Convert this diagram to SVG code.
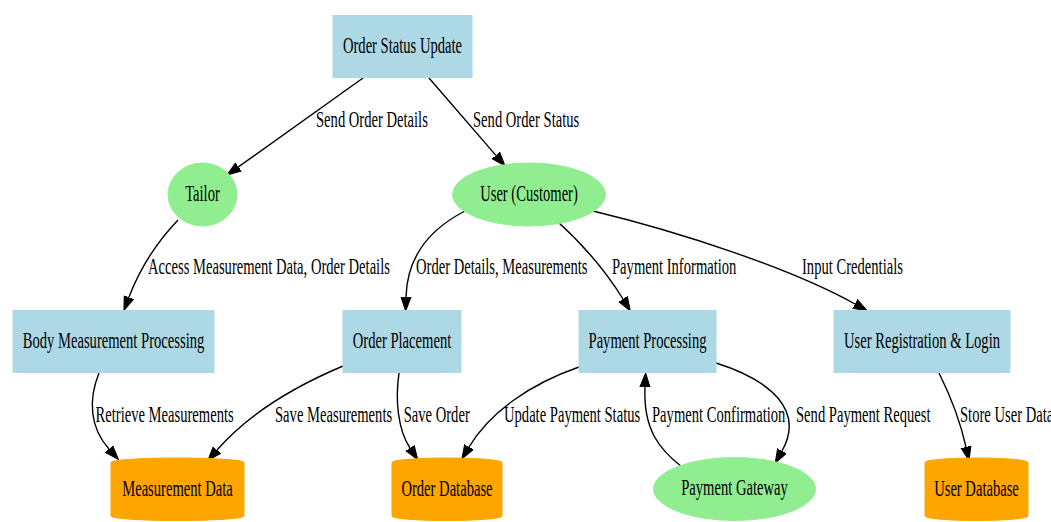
<svg xmlns="http://www.w3.org/2000/svg" width="1051" height="522" viewBox="0 0 1051 522">
  <style>
    .proc { fill: #ADD8E6; stroke: #ADD8E6; stroke-width: 1; }
    .ent { fill: #90EE90; stroke: #90EE90; stroke-width: 1; }
    .store { fill: #FFA500; stroke: #FFA500; stroke-width: 1; }
    .edge { fill: none; stroke: #000; stroke-width: 1.4; }
    text { font-family: "Liberation Serif", "Times New Roman", serif; font-size: 23px; fill: #000; }
    .n { text-anchor: middle; }
    .l { text-anchor: start; }
  </style>
  <defs>
    <marker id="arrow" markerUnits="userSpaceOnUse" markerWidth="16" markerHeight="12" viewBox="0 -6 16 12" refX="0" refY="0" orient="auto">
      <path d="M0,-5 L14,0 L0,5 Z" fill="#000" stroke="#000" stroke-width="1"/>
    </marker>
  </defs>
  <rect width="1051" height="522" fill="#fff"/>

  <!-- connectors -->
  <g id="edges">
    <path class="edge" marker-end="url(#arrow)" d="M363,78 L238.4,166.9"/>
    <path class="edge" marker-end="url(#arrow)" d="M429,78 L495.9,155.4"/>
    <path class="edge" marker-end="url(#arrow)" d="M178,220 C158,241 140,268 128.9,297.3"/>
    <path class="edge" marker-end="url(#arrow)" d="M465,211 C428,230 407,258 406,297"/>
    <path class="edge" marker-end="url(#arrow)" d="M557,221 C578,240 602,265 623,299"/>
    <path class="edge" marker-end="url(#arrow)" d="M593,211 C680,232 790,268 855,304"/>
    <path class="edge" marker-end="url(#arrow)" d="M99,373 C88,400 90,428 109,449"/>
    <path class="edge" marker-end="url(#arrow)" d="M343,366 C298,385 250,412 217,450"/>
    <path class="edge" marker-end="url(#arrow)" d="M399,373 C395,400 398,430 410,448"/>
    <path class="edge" marker-end="url(#arrow)" d="M579,367 C530,384 490,412 469,447"/>
    <path class="edge" marker-end="url(#arrow)" d="M682,467 C660,450 643,430 645,387"/>
    <path class="edge" marker-end="url(#arrow)" d="M716,363 C770,380 805,410 782,451"/>
    <path class="edge" marker-end="url(#arrow)" d="M939,373 C950,395 960,420 966,447"/>

    <text class="l" transform="translate(316,127) scale(0.635,1)">Send Order Details</text>
    <text class="l" transform="translate(473,127) scale(0.635,1)">Send Order Status</text>
    <text class="l" transform="translate(148,274) scale(0.635,1)">Access Measurement Data, Order Details</text>
    <text class="l" transform="translate(416,274) scale(0.635,1)">Order Details, Measurements</text>
    <text class="l" transform="translate(612,274) scale(0.635,1)">Payment Information</text>
    <text class="l" transform="translate(802,274) scale(0.635,1)">Input Credentials</text>
    <text class="l" transform="translate(95.5,422) scale(0.635,1)">Retrieve Measurements</text>
    <text class="l" transform="translate(275,422) scale(0.635,1)">Save Measurements</text>
    <text class="l" transform="translate(403.7,422) scale(0.635,1)">Save Order</text>
    <text class="l" transform="translate(504,422) scale(0.635,1)">Update Payment Status</text>
    <text class="l" transform="translate(652,422) scale(0.635,1)">Payment Confirmation</text>
    <text class="l" transform="translate(796,422) scale(0.635,1)">Send Payment Request</text>
    <text class="l" transform="translate(960,422) scale(0.635,1)">Store User Data</text>
  </g>

  <!-- processes -->
  <g id="order-status-update">
    <rect class="proc" x="333" y="15.5" width="139" height="62"/>
    <text class="n" transform="translate(402.5,52.5) scale(0.635,1)">Order Status Update</text>
  </g>
  <g id="body-measurement-processing">
    <rect class="proc" x="13" y="310.5" width="201" height="62"/>
    <text class="n" transform="translate(113.5,347.5) scale(0.635,1)">Body Measurement Processing</text>
  </g>
  <g id="order-placement">
    <rect class="proc" x="343" y="310.5" width="118" height="62"/>
    <text class="n" transform="translate(402,347.5) scale(0.635,1)">Order Placement</text>
  </g>
  <g id="payment-processing">
    <rect class="proc" x="579" y="310.5" width="137" height="62"/>
    <text class="n" transform="translate(647.5,347.5) scale(0.635,1)">Payment Processing</text>
  </g>
  <g id="user-registration-login">
    <rect class="proc" x="834" y="310.5" width="176" height="62"/>
    <text class="n" transform="translate(922,347.5) scale(0.635,1)">User Registration &amp; Login</text>
  </g>

  <!-- external entities -->
  <g id="tailor">
    <ellipse class="ent" cx="202.5" cy="194.5" rx="34.5" ry="31.5"/>
    <text class="n" transform="translate(202.5,200.5) scale(0.635,1)">Tailor</text>
  </g>
  <g id="user-customer">
    <ellipse class="ent" cx="529" cy="194.5" rx="76.5" ry="31.5"/>
    <text class="n" transform="translate(529,200.5) scale(0.635,1)">User (Customer)</text>
  </g>
  <g id="payment-gateway">
    <ellipse class="ent" cx="734.5" cy="489" rx="81" ry="31.5"/>
    <text class="n" transform="translate(734.5,495) scale(0.635,1)">Payment Gateway</text>
  </g>

  <!-- data stores -->
  <g id="measurement-data">
    <path class="store" d="M111,462.5 A66.5,4.5 0 0 1 244,462.5 L244,516 A66.5,4.5 0 0 1 111,516 Z"/>
    <text class="n" transform="translate(177.5,495.5) scale(0.635,1)">Measurement Data</text>
  </g>
  <g id="order-database">
    <path class="store" d="M392,462.5 A55,4.5 0 0 1 502,462.5 L502,516 A55,4.5 0 0 1 392,516 Z"/>
    <text class="n" transform="translate(447,495.5) scale(0.635,1)">Order Database</text>
  </g>
  <g id="user-database">
    <path class="store" d="M925,462.5 A51.5,4.5 0 0 1 1028,462.5 L1028,516 A51.5,4.5 0 0 1 925,516 Z"/>
    <text class="n" transform="translate(976.5,495.5) scale(0.635,1)">User Database</text>
  </g>
</svg>
